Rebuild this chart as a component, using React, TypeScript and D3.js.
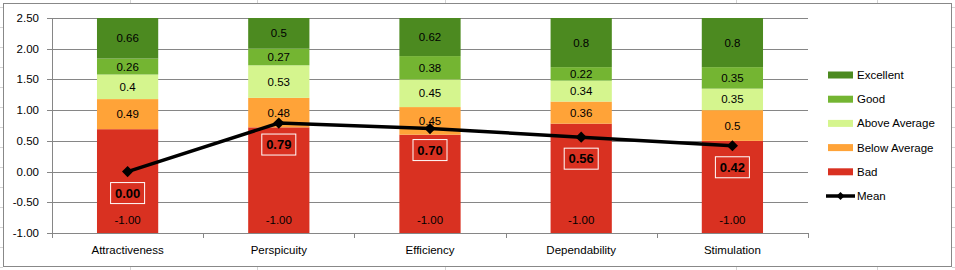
import React from "react";
import * as d3 from "d3";

// categories and stacked benchmark ranges
const categories = ["Attractiveness", "Perspicuity", "Efficiency", "Dependability", "Stimulation"];
const bad = [1.69, 1.72, 1.6, 1.78, 1.5];
const belowAverage = [0.49, 0.48, 0.45, 0.36, 0.5];
const aboveAverage = [0.4, 0.53, 0.45, 0.34, 0.35];
const good = [0.26, 0.27, 0.38, 0.22, 0.35];
const excellent = [0.66, 0.5, 0.62, 0.8, 0.8];
const badLabels = ["-1.00", "-1.00", "-1.00", "-1.00", "-1.00"];
const mean = [0.0, 0.79, 0.7, 0.56, 0.42];
const yTicks = [-1, -0.5, 0, 0.5, 1, 1.5, 2, 2.5];
const baseValue = -1;

const seriesNames = ["Bad", "Below Average", "Above Average", "Good", "Excellent"];
const seriesValues = [bad, belowAverage, aboveAverage, good, excellent];
const seriesColors = ["#D93121", "#FFA338", "#D5F58E", "#74B532", "#4C8A20"];

const W = 955, H = 270;
const margin = { left: 52, right: 147, top: 18, bottom: 37 };
const font = "'Liberation Sans', Arial, sans-serif";
const fs = 11.5;

export default function App() {
  const x = d3.scaleBand().domain(categories).range([margin.left, W - margin.right]).paddingInner(0.595).paddingOuter(0.2975);
  const y = d3.scaleLinear().domain([-1, 2.5]).range([H - margin.bottom, margin.top]);
  const band = d3.scaleBand().domain(categories).range([margin.left, W - margin.right]);

  // stack the series starting at the base value
  const rows = categories.map((c, i) => {
    const r: any = { cat: c };
    seriesNames.forEach((s, k) => (r[s] = seriesValues[k][i]));
    return r;
  });
  const stacked = d3.stack().keys(seriesNames)(rows);

  const line = d3.line<number>()
    .x((_, i) => (x(categories[i]) as number) + x.bandwidth() / 2)
    .y((d) => y(d));

  const legendItems = [...seriesNames].reverse();
  const legendColors = [...seriesColors].reverse();

  // spreadsheet cell lines showing around the chart
  const cellCols = [130, 257, 445, 736, 877];
  const cellRows = d3.range(7, 270, 20);

  return (
    <svg width={W} height={H} style={{ position: "absolute", left: 0, top: 0, fontFamily: font }}>
      <rect x={0} y={0} width={W} height={H} fill="#fff" />
      {cellCols.map((cx) => (
        <g key={cx}>
          <line x1={cx + 0.5} x2={cx + 0.5} y1={0} y2={3} stroke="#d4d4d4" />
          <line x1={cx + 0.5} x2={cx + 0.5} y1={267} y2={270} stroke="#d4d4d4" />
        </g>
      ))}
      {cellRows.map((cy) => (
        <g key={cy}>
          <line x1={0} x2={3} y1={cy + 0.5} y2={cy + 0.5} stroke="#d4d4d4" />
          <line x1={952} x2={955} y1={cy + 0.5} y2={cy + 0.5} stroke="#d4d4d4" />
        </g>
      ))}
      <rect x={3.5} y={3.5} width={948} height={263} fill="#fff" stroke="#888" />

      {/* gridlines */}
      {yTicks.map((t) => (
        <g key={t}>
          <line x1={margin.left - 5} x2={W - margin.right} y1={Math.round(y(t)) + 0.5} y2={Math.round(y(t)) + 0.5} stroke="#868686" />
          <text x={margin.left - 13} y={y(t)} dy="0.35em" textAnchor="end" fontSize={fs} fill="#000">{t.toFixed(2)}</text>
        </g>
      ))}
      <line x1={margin.left + 0.5} x2={margin.left + 0.5} y1={y(2.5)} y2={y(-1)} stroke="#868686" />

      {/* bars */}
      {stacked.map((s, k) => (
        <g key={s.key}>
          {s.map((d, i) => {
            const y0 = y(d[0] + baseValue), y1 = y(d[1] + baseValue);
            const bx = x(categories[i]) as number;
            return (
              <g key={i}>
                <rect x={bx} y={y1} width={x.bandwidth()} height={y0 - y1} fill={seriesColors[k]} />
                {k === 0 ? (
                  <text x={bx + x.bandwidth() / 2} y={y(baseValue) - 13} dy="0.35em" textAnchor="middle" fontSize={fs}>{badLabels[i]}</text>
                ) : (
                  <text x={bx + x.bandwidth() / 2} y={(y0 + y1) / 2} dy="0.35em" textAnchor="middle" fontSize={fs}>{String(seriesValues[k][i])}</text>
                )}
              </g>
            );
          })}
        </g>
      ))}

      {/* x axis */}
      <line x1={margin.left} x2={W - margin.right} y1={Math.round(y(-1)) + 0.5} y2={Math.round(y(-1)) + 0.5} stroke="#868686" />
      {d3.range(categories.length + 1).map((i) => {
        const tx = Math.round(margin.left + i * band.bandwidth()) + 0.5;
        return <line key={i} x1={tx} x2={tx} y1={y(-1)} y2={y(-1) + 5} stroke="#868686" />;
      })}
      {categories.map((c) => (
        <text key={c} x={(band(c) as number) + band.bandwidth() / 2} y={H - margin.bottom + 17} dy="0.35em" textAnchor="middle" fontSize={fs}>{c}</text>
      ))}

      {/* mean line */}
      <path d={line(mean) || ""} fill="none" stroke="#000" strokeWidth={3.5} />
      {mean.map((m, i) => {
        const cx = (x(categories[i]) as number) + x.bandwidth() / 2;
        const cy = y(m);
        return (
          <g key={i}>
            <path d={d3.symbol(d3.symbolDiamond2, 80)() || ""} transform={`translate(${cx},${cy})`} fill="#000" />
            <rect x={cx - 17} y={cy + 11} width={34} height={21} fill="none" stroke="#fff" strokeWidth={1} />
            <text x={cx} y={cy + 21.5} dy="0.35em" textAnchor="middle" fontSize={13} fontWeight="bold">{m.toFixed(2)}</text>
          </g>
        );
      })}

      {/* legend */}
      {legendItems.map((name, i) => (
        <g key={name} transform={`translate(828,${75 + i * 24.2})`}>
          <rect x={0} y={-3.5} width={25} height={7} fill={legendColors[i]} />
          <text x={29} y={0} dy="0.35em" fontSize={fs}>{name}</text>
        </g>
      ))}
      <g transform={`translate(828,${75 + 5 * 24.2})`}>
        <line x1={-2} x2={27} y1={0} y2={0} stroke="#000" strokeWidth={3.5} />
        <path d={d3.symbol(d3.symbolDiamond2, 40)() || ""} transform="translate(12.5,0)" fill="#000" />
        <text x={29} y={0} dy="0.35em" fontSize={fs}>Mean</text>
      </g>
    </svg>
  );
}
